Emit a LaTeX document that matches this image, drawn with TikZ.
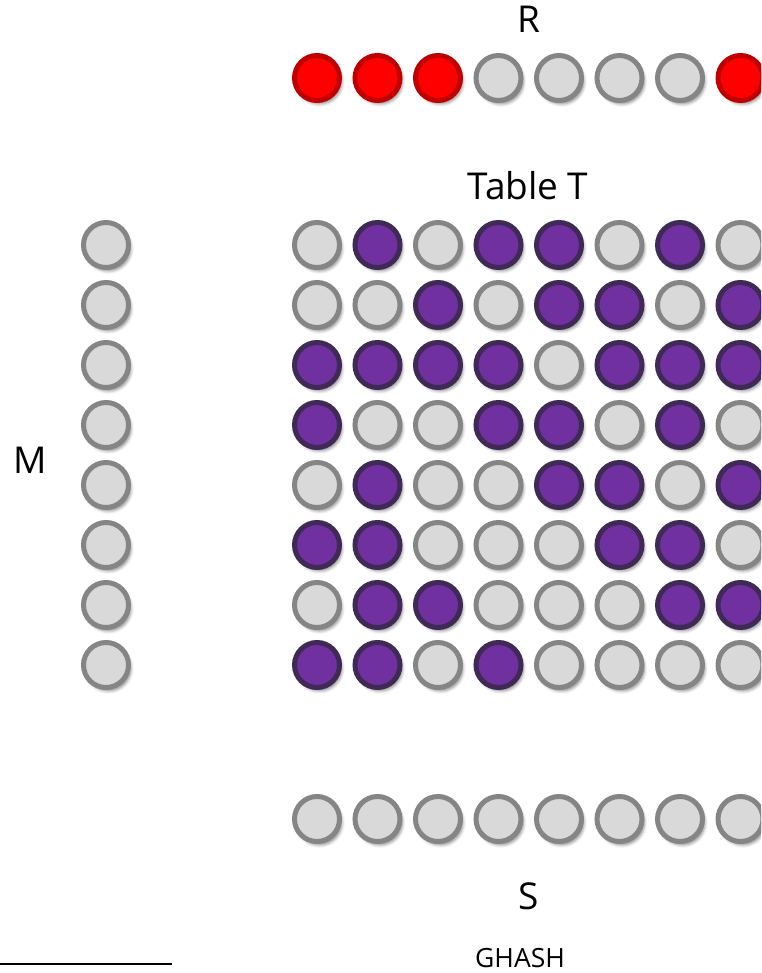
\documentclass[tikz,border=0pt]{standalone}
\usepackage{fontspec}
\setmainfont{Open Sans}
\usetikzlibrary{shadows.blur}
\definecolor{cgray}{HTML}{D9D9D9}
\definecolor{cgrayb}{HTML}{858585}
\definecolor{cpurp}{HTML}{7030A0}
\definecolor{cpurpb}{HTML}{3F2A56}
\definecolor{cred}{HTML}{FF0000}
\definecolor{credb}{HTML}{C00000}
\begin{document}
\begin{tikzpicture}[x=1pt,y=-1pt,
  dot/.style={circle, minimum size=45pt, inner sep=0pt, line width=5pt,
    blur shadow={shadow xshift=2.5pt, shadow yshift=-3.5pt, shadow blur radius=3pt, shadow opacity=45}},
  s0/.style={dot, draw=cgrayb, fill=cgray},
  s1/.style={dot, draw=cpurpb, fill=cpurp},
  r0/.style={dot, draw=cgrayb, fill=cgray},
  r1/.style={dot, draw=credb, fill=cred},
  lbl/.style={font=\fontsize{37}{44}\selectfont, inner sep=0pt, anchor=base},
  small/.style={font=\fontsize{26.5}{32}\selectfont, inner sep=0pt, anchor=base}]
\useasboundingbox (0,0) rectangle (761,973);
\clip (0,0) rectangle (761,973);
% labels
\node[lbl] (lR) at (529,33) {R};
\node[lbl] (lT) at (528,200) {Table T};
\node[lbl] (lM) at (30,473) {M};
\node[lbl] (lS) at (529,909) {S};
\node[small] (lG) at (520,967) {GHASH};
% R row
\foreach \v [count=\c] in {1,1,1,0,0,0,0,1}
  \node[r\v] (r-\c) at ({317+60.5*(\c-1)},78) {};
% Table T
\foreach \row [count=\r] in {
  {0,1,0,1,1,0,1,0},
  {0,0,1,0,1,1,0,1},
  {1,1,1,1,0,1,1,1},
  {1,0,0,1,1,0,1,0},
  {0,1,0,0,1,1,0,1},
  {1,1,0,0,0,1,1,0},
  {0,1,1,0,0,0,1,1},
  {1,1,0,1,0,0,0,0}}
{
  \foreach \v [count=\c] in \row
    \node[s\v] (t-\r-\c) at ({317+60.5*(\c-1)},{245+60*(\r-1)}) {};
}
% M column
\foreach \r in {1,...,8}
  \node[s0] (m-\r) at (106,{245+60*(\r-1)}) {};
% S row
\foreach \c in {1,...,8}
  \node[s0] (s-\c) at ({317+60.5*(\c-1)},819) {};
% bottom line
\coordinate (la) at (0,964);
\coordinate (lb) at (172,964);
\draw[line width=2pt] (la) -- (lb);
\end{tikzpicture}
\end{document}
